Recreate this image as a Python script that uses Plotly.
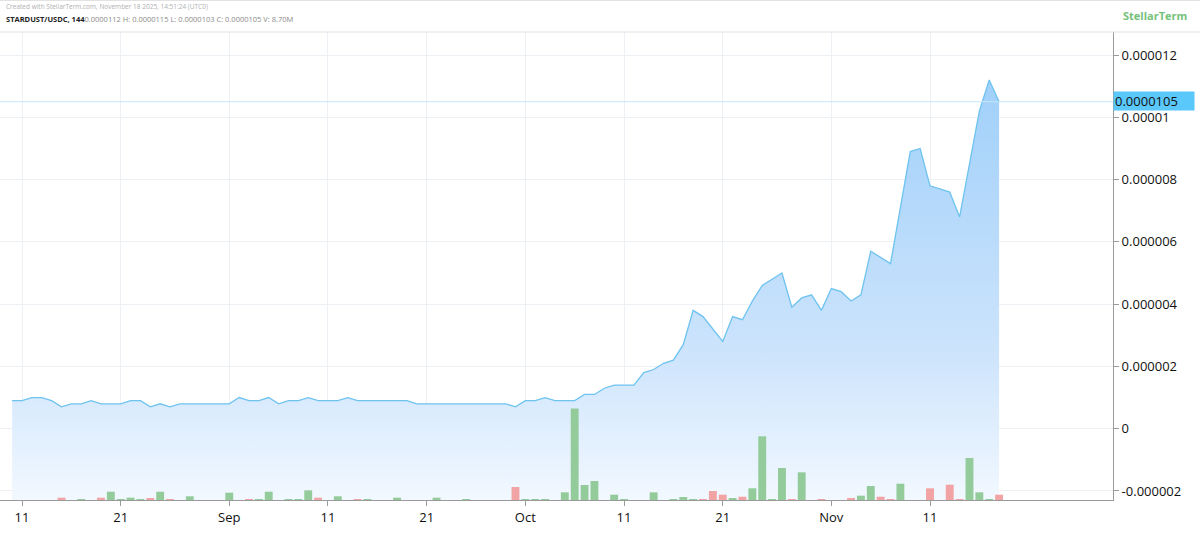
import plotly.graph_objects as go
import pandas as pd

# ---------------- data ----------------
start_date = "2025-08-10"
# daily close, in units of 1e-6 USDC
price_micro = [0.9, 0.9, 1.0, 1.0, 0.9, 0.7, 0.8, 0.8, 0.9, 0.8,
               0.8, 0.8, 0.9, 0.9, 0.7, 0.8, 0.7, 0.8, 0.8, 0.8,
               0.8, 0.8, 0.8, 1.0, 0.9, 0.9, 1.0, 0.8, 0.9, 0.9,
               1.0, 0.9, 0.9, 0.9, 1.0, 0.9, 0.9, 0.9, 0.9, 0.9,
               0.9, 0.8, 0.8, 0.8, 0.8, 0.8, 0.8, 0.8, 0.8, 0.8,
               0.8, 0.7, 0.9, 0.9, 1.0, 0.9, 0.9, 0.9, 1.1, 1.1,
               1.3, 1.4, 1.4, 1.4, 1.8, 1.9, 2.1, 2.2, 2.7, 3.8,
               3.6, 3.2, 2.8, 3.6, 3.5, 4.1, 4.6, 4.8, 5.0, 3.9,
               4.2, 4.3, 3.8, 4.5, 4.4, 4.1, 4.3, 5.7, 5.5, 5.3,
               7.1, 8.9, 9.0, 7.8, 7.7, 7.6, 6.8, 8.5, 10.2, 11.2,
               10.5]
# daily volume, millions
volume_m = [0, 0, 0, 0, 0, 3.8, 0, 1.6, 0, 3.8,
            13.6, 1.6, 3.8, 1.6, 2.1, 13.6, 1.6, 0, 6.1, 0,
            0, 0, 12.0, 0, 1.6, 1.6, 13.6, 0, 1.6, 1.6,
            15.9, 3.8, 0, 6.1, 0, 1.6, 1.6, 0, 0, 3.8,
            0, 0, 0, 3.8, 0, 0, 1.6, 0, 0, 0,
            0, 21.3, 1.6, 1.6, 1.6, 0, 12.6, 150.0, 24.6, 31.2,
            0, 8.7, 1.6, 0, 0, 12.6, 0, 1.6, 4.9, 1.6,
            1.6, 14.8, 8.7, 3.3, 5.4, 19.2, 104.5, 1.6, 52.5, 1.6,
            45.4, 0, 1.6, 0, 0, 3.3, 7.1, 23.0, 5.4, 1.6,
            26.7, 0, 0, 19.2, 0, 25.1, 1.6, 68.9, 12.6, 1.6,
            8.7]

tick_dates = ["2025-08-11", "2025-08-21", "2025-09-01", "2025-09-11", "2025-09-21",
              "2025-10-01", "2025-10-11", "2025-10-21", "2025-11-01", "2025-11-11"]
tick_texts = ["11", "21", "Sep", "11", "21", "Oct", "11", "21", "Nov", "11"]

y_tickvals = [-2e-6, 0, 2e-6, 4e-6, 6e-6, 8e-6, 10e-6, 12e-6]
y_ticktext = ["-0.000002", "0", "0.000002", "0.000004", "0.000006",
              "0.000008", "0.00001", "0.000012"]

last_price_text = "0.0000105"
header_line1 = "Created with StellarTerm.com, November 18 2025, 14:51:24 (UTC0)"
header_pair = "STARDUST/USDC, 144"
header_ohlc = "0.0000112 H: 0.0000115 L: 0.0000103 C: 0.0000105 V: 8.70M"

# ---------------- derived ----------------
dates = pd.date_range(start_date, periods=len(price_micro), freq="D")
price = [p * 1e-6 for p in price_micro]
last_price = price[-1]

Y_MIN, Y_MAX = -2.29e-6, 12.74e-6
X_MIN, X_MAX = "2025-08-08 18:30", "2025-11-29 13:00"

GREEN = "#93cc9a"
RED = "#f2a3a3"
bar_colors = [GREEN] + [RED if price[i] < price[i - 1] else GREEN for i in range(1, len(price))]

fig = go.Figure()

# baseline for the fill (bottom of plot)
fig.add_trace(go.Scatter(
    x=dates, y=[Y_MIN] * len(dates), mode="lines",
    line=dict(width=0, color="rgba(0,0,0,0)"), hoverinfo="skip", showlegend=False))

fig.add_trace(go.Scatter(
    x=dates, y=price, mode="lines",
    line=dict(color="#6ec3ef", width=1.3),
    fill="tonexty",
    fillgradient=dict(type="vertical",
                      colorscale=[[0, "rgb(242,248,255)"],
                                  [0.35, "rgb(205,228,252)"],
                                  [1, "rgb(160,208,250)"]]),
    showlegend=False))

fig.add_trace(go.Bar(
    x=dates, y=volume_m, yaxis="y2",
    marker=dict(color=bar_colors, line=dict(width=0)),
    width=0.8 * 86400000, showlegend=False))

W, H = 1200, 538
L, R, T, B = 0, 87, 32, 38
plot_w = W - L - R
plot_h = H - T - B


def px_x(px):
    return (px - L) / plot_w


def px_y(py):
    return (H - B - py) / plot_h


fig.update_layout(
    width=W, height=H,
    margin=dict(l=L, r=R, t=T, b=B),
    paper_bgcolor="white", plot_bgcolor="white",
    font=dict(family="Open Sans", size=13, color="#111"),
    bargap=0.2,
    xaxis=dict(type="date", range=[X_MIN, X_MAX],
               tickvals=tick_dates, ticktext=tick_texts,
               showgrid=True, gridcolor="#edf1f6", gridwidth=1,
               showline=True, linecolor="#9a9a9a", linewidth=1,
               ticks="outside", ticklen=5, tickcolor="#9a9a9a",
               tickfont=dict(size=13, color="#111"), zeroline=False),
    yaxis=dict(side="right", range=[Y_MIN, Y_MAX],
               tickvals=y_tickvals, ticktext=y_ticktext,
               showgrid=True, gridcolor="#edf1f6", gridwidth=1,
               showline=True, linecolor="#9a9a9a", linewidth=1,
               ticks="outside", ticklen=5, tickcolor="#9a9a9a",
               tickfont=dict(size=13, color="#111"), zeroline=False),
    yaxis2=dict(overlaying="y", range=[0, 767.5], visible=False),
    shapes=[
        dict(type="line", xref="paper", yref="y", x0=0, x1=1,
             y0=last_price, y1=last_price, line=dict(color="#c4e6f8", width=1)),
        dict(type="line", xref="paper", yref="paper", x0=0, x1=px_x(W),
             y0=1, y1=1, line=dict(color="#e2e2e2", width=1)),
        dict(type="line", xref="paper", yref="paper", x0=0, x1=px_x(W),
             y0=px_y(0.5), y1=px_y(0.5), line=dict(color="#e2e2e2", width=1)),
    ],
    annotations=[
        dict(xref="paper", yref="paper", x=px_x(4), y=px_y(7), xanchor="left", yanchor="middle",
             text=header_line1, showarrow=False,
             font=dict(family="Open Sans", size=6.5, color="#b0b0b0")),
        dict(xref="paper", yref="paper", x=px_x(4), y=px_y(18.5), xanchor="left", yanchor="middle",
             text="<b>" + header_pair + "</b><span style='color:#8a8a8a'>" + header_ohlc + "</span>",
             showarrow=False,
             font=dict(family="Open Sans", size=7.5, color="#222")),
        dict(xref="paper", yref="paper", x=px_x(1189), y=px_y(15.5), xanchor="right", yanchor="middle",
             text="<b>StellarTerm</b>", showarrow=False,
             font=dict(family="Open Sans", size=11, color="#74c27a")),
        dict(xref="paper", yref="y", x=1, y=last_price, xanchor="left", yanchor="middle",
             text=last_price_text, showarrow=False, bgcolor="#5ac8fa",
             borderpad=1, width=78, height=16, yshift=1, align="left",
             font=dict(family="Open Sans", size=13, color="#111")),
    ],
)

fig.write_html("out.html",
               config={"displayModeBar": False},
               post_script="document.body.style.margin='0';document.body.style.padding='0';")
